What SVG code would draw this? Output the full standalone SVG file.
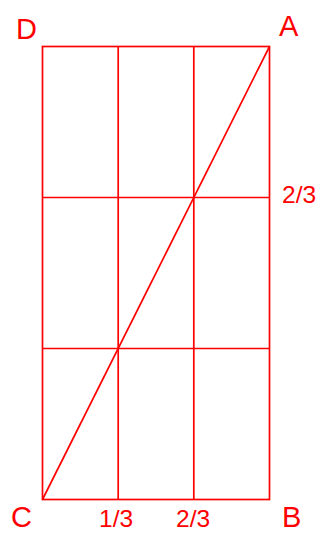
<svg xmlns="http://www.w3.org/2000/svg" width="327" height="541" viewBox="0 0 327 541">
<style>
.l{stroke:#ff0000;stroke-width:1.7;fill:none}
.big{font-family:"Liberation Sans",Arial,sans-serif;font-size:29px;fill:#ff0000}
.sm{font-family:"Liberation Sans",Arial,sans-serif;font-size:24.5px;fill:#ff0000}
</style>
<rect width="327" height="541" fill="#fff"/>
<g id="connectors">
<rect class="l" x="42.5" y="46.5" width="227" height="453"/>
<line class="l" x1="118.2" y1="46.5" x2="118.2" y2="499.5"/>
<line class="l" x1="193.8" y1="46.5" x2="193.8" y2="499.5"/>
<line class="l" x1="42.5" y1="197.5" x2="269.5" y2="197.5"/>
<line class="l" x1="42.5" y1="348.5" x2="269.5" y2="348.5"/>
<line class="l" x1="42.5" y1="499.5" x2="269.5" y2="46.5"/>
</g>
<g id="D"><text class="big" x="16" y="39">D</text></g>
<g id="A"><text class="big" x="279" y="36">A</text></g>
<g id="C"><text class="big" x="11" y="527">C</text></g>
<g id="B"><text class="big" x="282" y="527">B</text></g>
<g id="t1"><text class="sm" x="99" y="527">1/3</text></g>
<g id="t2"><text class="sm" x="176" y="527">2/3</text></g>
<g id="t3"><text class="sm" x="282" y="203">2/3</text></g>
</svg>
